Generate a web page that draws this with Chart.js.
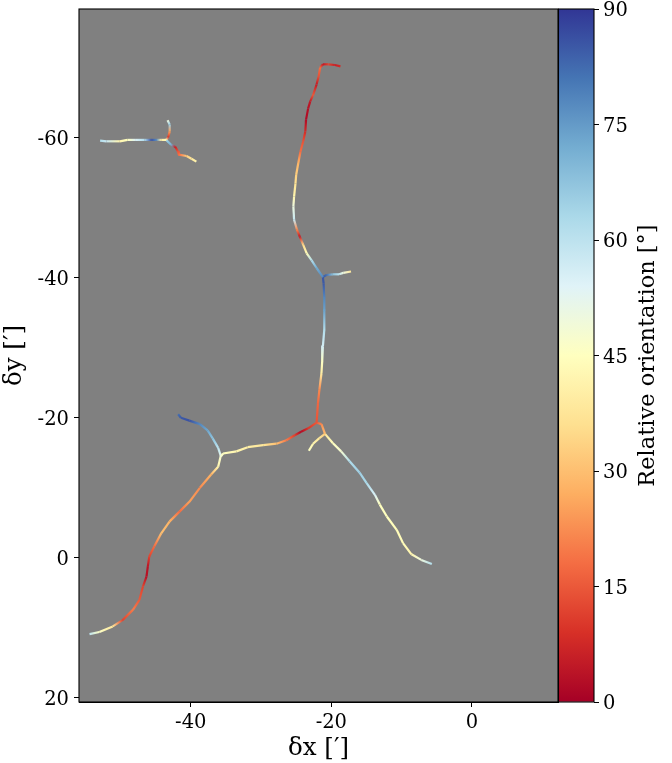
<!DOCTYPE html>
<html>
<head>
<meta charset="utf-8">
<script src="https://cdn.jsdelivr.net/npm/chart.js@4/dist/chart.umd.js"></script>
<style>
html,body{margin:0;padding:0;background:#fff;}
#wrap{position:relative;width:672px;height:763px;overflow:hidden;}
canvas{position:absolute;top:0;display:block;}
</style>
</head>
<body>
<div id="wrap">
<canvas id="main" width="672" height="763" style="left:0;width:672px;height:763px"></canvas>
<canvas id="bar" width="114" height="763" style="left:558px;width:114px;height:763px"></canvas>
</div>
<script>
// Tick labels
const xTicks = [-40, -20, 0];
const yTicks = [-60, -40, -20, 0, 20];
const barTicks = [0, 15, 30, 45, 60, 75, 90];
const barTitle = 'Relative orientation [°]';

// Filament branches: offsets (arcmin) and relative orientation (deg)
const westX = [-52.9,-52.0,-50.1,-49.0,-47.8,-46.6,-45.6,-44.9,-44.2,-43.5];
const westY = [-59.6,-59.5,-59.5,-59.7,-59.7,-59.7,-59.7,-59.7,-59.7,-59.7];
const westA = [62,58,42,45,55,62,86,78,40,44];

const westUpX = [-43.5,-43.2,-43.0,-43.0,-43.3];
const westUpY = [-59.7,-60.1,-60.9,-61.9,-62.5];
const westUpA = [44,10,25,65,50];

const westDownX = [-43.5,-42.8,-42.2,-41.8,-41.7,-40.6,-39.9,-39.2];
const westDownY = [-59.7,-59.0,-58.7,-58.0,-57.6,-57.4,-57.0,-56.6];
const westDownA = [65,72,6,15,18,32,38,42];

const northX = [-18.7,-19.5,-20.4,-21.2,-21.6,-21.8,-22.1,-22.6,-23.0,-23.3,-23.6,-23.7,-24.0,-24.4,-24.7,-25.0,-25.1,-25.3,-25.4,-25.3,-24.9,-24.5,-24.0,-23.5,-22.8,-22.1,-21.2];
const northY = [-70.2,-70.4,-70.5,-70.5,-70.0,-68.8,-67.6,-66.1,-65.2,-64.2,-62.6,-60.9,-59.5,-58.0,-56.4,-54.7,-53.5,-51.6,-50.2,-48.3,-46.9,-45.9,-44.7,-43.5,-42.5,-41.4,-40.1];
const northA = [8,6,12,5,18,14,5,15,5,3,2,8,14,18,28,33,37,42,50,58,22,5,35,44,62,72,78];

const eastArmX = [-21.2,-20.7,-19.8,-18.9,-18.3,-17.2];
const eastArmY = [-40.1,-40.4,-40.5,-40.5,-40.7,-40.9];
const eastArmA = [85,82,68,60,50,38];

const stemX = [-21.2,-21.1,-21.0,-21.0,-21.0,-21.2,-21.3,-21.4,-21.7,-21.9,-22.1];
const stemY = [-40.1,-39.2,-37.1,-35.4,-32.6,-30.2,-28.0,-26.4,-24.0,-22.1,-19.3];
const stemA = [85,85,78,74,62,56,46,40,22,17,14];

const ridgeX = [-22.1,-23.3,-24.3,-25.2,-26.4,-27.8,-29.7,-31.9,-33.5,-35.4,-35.7];
const ridgeY = [-19.3,-18.5,-18.0,-17.5,-16.8,-16.3,-16.1,-15.8,-15.2,-14.9,-14.5];
const ridgeA = [15,10,2,11,20,30,38,40,42,45,48];

const spurX = [-35.7,-36.1,-36.9,-37.6,-38.7,-40.2,-41.4,-41.8];
const spurY = [-14.5,-15.7,-17.1,-18.2,-19.1,-19.6,-20.0,-20.5];
const spurA = [52,60,68,73,78,86,85,82];

const southWestX = [-35.7,-36.1,-37.1,-38.7,-40.2,-41.6,-43.0,-44.2,-45.2,-45.9,-46.1,-46.3,-46.8,-47.3,-48.2,-49.7,-51.1,-53.0,-54.4];
const southWestY = [-14.7,-13.0,-11.9,-10.0,-8.0,-6.6,-5.2,-3.5,-1.6,-0.2,1.2,2.7,4.1,6.0,7.4,8.9,9.8,10.6,10.9];
const southWestA = [48,42,28,22,25,18,28,30,18,12,4,3,12,15,20,12,38,46,60];

const forkX = [-22.1,-21.4,-20.9];
const forkY = [-19.3,-19.1,-17.7];
const forkA = [15,22,30];

const forkLeftX = [-20.9,-21.7,-22.6,-23.2];
const forkLeftY = [-17.7,-17.1,-16.3,-15.3];
const forkLeftA = [32,38,42,46];

const southEastX = [-20.9,-19.8,-18.6,-17.4,-16.0,-15.0,-13.8,-13.1,-12.1,-10.7,-9.8,-8.6,-7.2,-5.7];
const southEastY = [-17.7,-16.4,-15.2,-13.8,-12.2,-10.7,-9.0,-7.6,-5.9,-4.0,-2.1,-0.5,0.3,0.9];
const southEastA = [38,45,48,62,65,63,55,45,45,44,44,42,50,62];

const branches = [
  [westX,westY,westA],[westUpX,westUpY,westUpA],[westDownX,westDownY,westDownA],
  [northX,northY,northA],[eastArmX,eastArmY,eastArmA],[stemX,stemY,stemA],
  [ridgeX,ridgeY,ridgeA],[spurX,spurY,spurA],[southWestX,southWestY,southWestA],
  [forkX,forkY,forkA],[forkLeftX,forkLeftY,forkLeftA],[southEastX,southEastY,southEastA]
];

// RdYlBu colour map, low to high
const cmapStops = ['#a50026','#d73027','#f46d43','#fdae61','#fee090','#ffffbf','#e0f3f8','#abd9e9','#74add1','#4575b4','#313695'];
const angleMax = 90;
function hexToRgb(h){return [1,3,5].map(i=>parseInt(h.substr(i,2),16));}
function cmap(a){
  const t=Math.max(0,Math.min(1,a/angleMax))*(cmapStops.length-1);
  const i=Math.min(Math.floor(t),cmapStops.length-2), f=t-i;
  const p=hexToRgb(cmapStops[i]), q=hexToRgb(cmapStops[i+1]);
  const c=p.map((v,k)=>Math.round(v+(q[k]-v)*f));
  return 'rgb('+c.join(',')+')';
}

const serif = '"DejaVu Serif"';
Chart.defaults.font.family = serif;
Chart.defaults.color = '#000';

const panelPlugin = {
  id:'panel',
  beforeDatasetsDraw(chart){
    const a=chart.chartArea,c=chart.ctx;
    c.save();c.fillStyle='#808080';c.fillRect(a.left,a.top,a.width,a.height);c.restore();
  },
  afterDraw(chart){
    const a=chart.chartArea,c=chart.ctx;
    c.save();c.strokeStyle='#000';c.lineWidth=1.1;c.strokeRect(a.left,a.top,a.width,a.height);c.restore();
  }
};

function noOverhang(ax){ax.paddingTop=0;ax.paddingBottom=0;ax.paddingLeft=0;ax.paddingRight=0;}

const mainChart = new Chart(document.getElementById('main'),{
  type:'scatter',
  plugins:[panelPlugin],
  data:{datasets:branches.map(([xs,ys,as])=>({
    data:xs.map((x,i)=>({x:x,y:ys[i]})),
    showLine:true,
    pointRadius:0,
    borderWidth:2.2,
    borderCapStyle:'butt',
    borderJoinStyle:'round',
    tension:0,
    segment:{
      borderColor(ctx){
        const c0=cmap(as[ctx.p0DataIndex]), c1=cmap(as[ctx.p1DataIndex]);
        if(!isFinite(ctx.p0.x)||!isFinite(ctx.p1.x)) return c0;
        const g=document.getElementById('main').getContext('2d').createLinearGradient(ctx.p0.x,ctx.p0.y,ctx.p1.x,ctx.p1.y);
        g.addColorStop(0,c0);g.addColorStop(1,c1);
        return g;
      }
    }
  }))},
  options:{
    responsive:false,animation:false,
    layout:{padding:{left:0,top:9,right:114,bottom:0}},
    plugins:{legend:{display:false},tooltip:{enabled:false}},
    scales:{
      x:{
        type:'linear',min:-55.9,max:12.25,
        afterBuildTicks(ax){ax.ticks=xTicks.map(v=>({value:v}));},
        afterFit(ax){ax.height=61;noOverhang(ax);},
        grid:{drawOnChartArea:false,drawTicks:true,tickLength:5,tickColor:'#000',tickWidth:1},
        border:{display:true,color:'#000'},
        ticks:{font:{size:19.5},color:'#000',padding:4,maxRotation:0,callback:v=>String(v)},
        title:{display:true,text:'δx [′]',font:{size:24.5},color:'#000',padding:{top:0,bottom:0}}
      },
      y:{
        type:'linear',reverse:true,min:-78.4,max:20.6,
        afterBuildTicks(ax){ax.ticks=yTicks.map(v=>({value:v}));},
        afterFit(ax){ax.width=79;noOverhang(ax);},
        grid:{drawOnChartArea:false,drawTicks:true,tickLength:5,tickColor:'#000',tickWidth:1},
        border:{display:true,color:'#000'},
        ticks:{font:{size:19.5},color:'#000',padding:5,labelOffset:2,callback:v=>String(v)},
        title:{display:true,text:'δy [′]',font:{size:24.5},color:'#000',padding:{top:0,bottom:0}}
      }
    }
  }
});

const barValue = [[0,angleMax]];
const barLabels = ['Relative orientation'];
const barChart = new Chart(document.getElementById('bar'),{
  type:'bar',
  plugins:[{
    id:'barBorder',
    afterDraw(chart){
      const a=chart.chartArea,c=chart.ctx;
      c.save();c.strokeStyle='#000';c.lineWidth=1.1;c.strokeRect(a.left+0.5,a.top,a.width-0.5,a.height);
      // title reads bottom to top, as Chart.js only rotates right-hand titles the other way
      c.translate(90,(a.top+a.bottom)/2);c.rotate(-Math.PI/2);
      c.font='22.5px "DejaVu Serif"';c.fillStyle='#000';c.textAlign='center';c.textBaseline='middle';
      c.fillText(barTitle,0,0);
      c.restore();
    }
  }],
  data:{labels:barLabels,datasets:[{
    data:barValue,
    barPercentage:1,categoryPercentage:1,borderWidth:0,
    backgroundColor(ctx){
      const a=ctx.chart.chartArea;
      if(!a) return cmapStops[0];
      const g=ctx.chart.ctx.createLinearGradient(0,a.bottom,0,a.top);
      cmapStops.forEach((s,i)=>g.addColorStop(i/(cmapStops.length-1),s));
      return g;
    }
  }]},
  options:{
    responsive:false,animation:false,
    layout:{padding:{left:0,top:9,right:0,bottom:61}},
    plugins:{legend:{display:false},tooltip:{enabled:false}},
    scales:{
      x:{display:false},
      y:{
        position:'right',min:0,max:angleMax,
        afterBuildTicks(ax){ax.ticks=barTicks.map(v=>({value:v}));},
        afterFit(ax){ax.width=78;noOverhang(ax);},
        grid:{drawOnChartArea:false,drawTicks:true,tickLength:5,tickColor:'#000',tickWidth:1},
        border:{display:false},
        ticks:{font:{size:19.5},color:'#000',padding:4,labelOffset:2,callback:v=>String(v)},
        title:{display:false}
      }
    }
  }
});
</script>
</body>
</html>
